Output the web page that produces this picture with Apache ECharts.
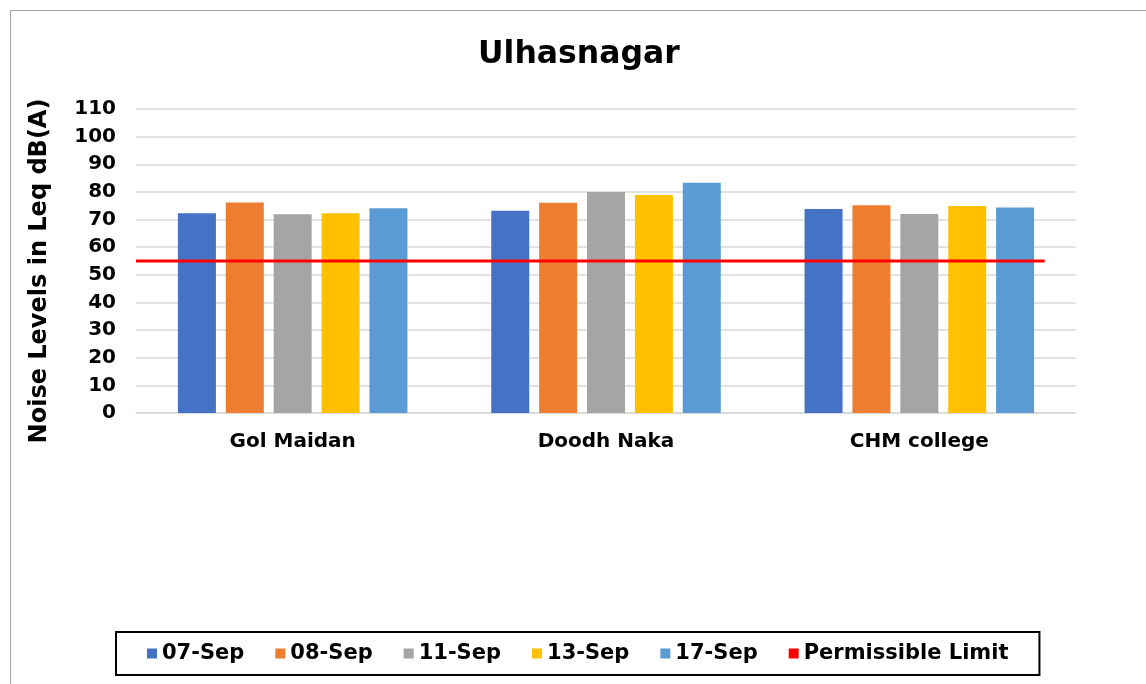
<!DOCTYPE html>
<html>
<head>
<meta charset="utf-8">
<script src="https://cdn.jsdelivr.net/npm/echarts@6/dist/echarts.min.js"></script>
<style>
  html, body { margin: 0; padding: 0; background: #fff; }
  #chart { width: 1146px; height: 684px; }
</style>
</head>
<body>
<div id="chart"></div>
<script>
// data
var sites = ['Gol Maidan', 'Doodh Naka', 'CHM college'];
var dates = ['07-Sep', '08-Sep', '11-Sep', '13-Sep', '17-Sep'];
var sep07 = [72.3, 73.2, 73.8];
var sep08 = [76.2, 76.1, 75.2];
var sep11 = [71.9, 80.0, 72.0];
var sep13 = [72.3, 78.9, 74.9];
var sep17 = [74.1, 83.3, 74.4];
var limitValue = 55;
var limitSpan = [0, 2.9];   // in category units along the axis
var yTicks = { min: 0, max: 110, step: 10 };

var colors = ['#4472C4', '#ED7D31', '#A5A5A5', '#FFC000', '#5B9BD5'];
var font = 'DejaVu Sans, Verdana, sans-serif';

var values = [sep07, sep08, sep11, sep13, sep17];
var series = dates.map(function (d, i) {
    return {
        name: d,
        type: 'bar',
        xAxisIndex: 0,
        data: values[i],
        barWidth: 38,
        barGap: '26%',
        itemStyle: { color: colors[i] }
    };
});
series.push({
    name: 'Permissible Limit',
    type: 'line',
    xAxisIndex: 1,
    data: [[limitSpan[0], limitValue], [limitSpan[1], limitValue]],
    symbol: 'none',
    lineStyle: { color: '#FF0000', width: 3 },
    itemStyle: { color: '#FF0000' },
    z: 5
});

var myChart = echarts.init(document.getElementById('chart'));
myChart.setOption({
    animation: false,
    textStyle: { fontFamily: font },
    title: {
        text: 'Ulhasnagar',
        left: 473,
        top: 34,
        textStyle: { fontSize: 31.5, fontWeight: 'bold', color: '#000', fontFamily: font }
    },
    graphic: [
        {
            type: 'rect',
            shape: { x: 10.5, y: 10.5, width: 1200, height: 700 },
            style: { fill: 'none', stroke: '#A6A6A6', lineWidth: 1 },
            silent: true
        },
        {
            type: 'text',
            x: 40,
            y: 271,
            rotation: Math.PI / 2,
            style: {
                text: 'Noise Levels in Leq dB(A)',
                font: 'bold 24px ' + font,
                fill: '#000',
                textAlign: 'center',
                textVerticalAlign: 'middle'
            }
        }
    ],
    legend: {
        left: 116,
        top: 632,
        padding: [11, 31],
        borderColor: '#000',
        borderWidth: 2,
        itemWidth: 10,
        itemHeight: 10,
        itemGap: 31,
        textStyle: { fontSize: 21, fontWeight: 'bold', color: '#000', fontFamily: font },
        data: dates.map(function (d) { return { name: d, icon: 'rect' }; })
            .concat([{ name: 'Permissible Limit', icon: 'rect' }])
    },
    grid: { left: 136, right: 70, top: 109, bottom: 271 },
    xAxis: [
        {
            type: 'category',
            data: sites,
            axisLine: { lineStyle: { color: '#D9D9D9', width: 1.5 } },
            axisTick: { show: false },
            axisLabel: { fontSize: 20, fontWeight: 'bold', color: '#000', margin: 19, fontFamily: font }
        },
        {
            type: 'value',
            min: 0,
            max: sites.length,
            show: false
        }
    ],
    yAxis: {
        type: 'value',
        min: yTicks.min,
        max: yTicks.max,
        interval: yTicks.step,
        axisLine: { show: false },
        axisTick: { show: false },
        axisLabel: { fontSize: 20, fontWeight: 'bold', color: '#000', margin: 20, fontFamily: font },
        splitLine: { lineStyle: { color: '#D9D9D9', width: 1.5 } }
    },
    series: series
});
</script>
</body>
</html>
